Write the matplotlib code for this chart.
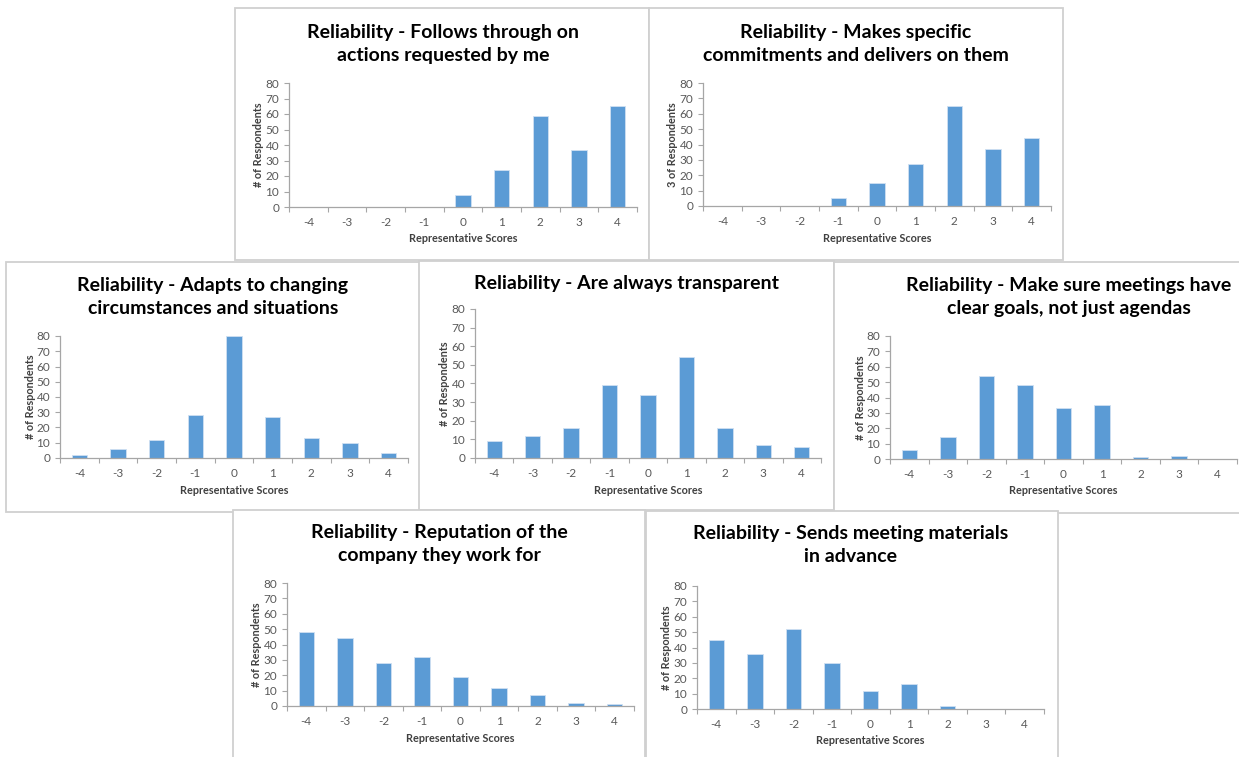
"""
Reliability survey histograms - 7 panels laid out like pasted Excel charts
"""
import matplotlib.pyplot as plt
from matplotlib.patches import Rectangle
import numpy as np

plt.rcParams['font.family'] = ['Lato', 'DejaVu Sans']

# data
scores = [-4, -3, -2, -1, 0, 1, 2, 3, 4]
score_labels = ['-4', '-3', '-2', '-1', '0', '1', '2', '3', '4']

follows_through = [0, 0, 0, 0, 8, 24, 59, 37, 65]
specific_commitments = [0, 0, 0, 5, 15, 27, 65, 37, 44]
adapts = [2, 6, 12, 28, 80, 27, 13, 10, 3]
transparent = [9, 12, 16, 39, 34, 54, 16, 7, 6]
clear_goals = [6, 14, 54, 48, 33, 35, 1, 2, 0]
reputation = [48, 44, 28, 32, 19, 12, 7, 2, 1]
sends_materials = [45, 36, 52, 30, 12, 16, 2, 0, 0]

titles = [
    'Reliability - Follows through on\nactions requested by me',
    'Reliability - Makes specific\ncommitments and delivers on them',
    'Reliability - Adapts to changing\ncircumstances and situations',
    'Reliability - Are always transparent',
    'Reliability - Make sure meetings have\nclear goals, not just agendas',
    'Reliability - Reputation of the\ncompany they work for',
    'Reliability - Sends meeting materials\nin advance',
]
ylabels = ['# of Respondents', '3 of Respondents', '# of Respondents', '# of Respondents',
           '# of Respondents', '# of Respondents', '# of Respondents']
xlabel = 'Representative Scores'
series = [follows_through, specific_commitments, adapts, transparent,
          clear_goals, reputation, sends_materials]

W, H = 1239, 757
BAR = '#5B9BD5'
AXIS = '#A6A6A6'
TICKTXT = '#595959'

# layout in pixels: panel box (x0, y0, x1, y1), plot area (left, top, right, bottom), title center x, title center y
panels = [
    ((235, 8, 649, 260), (289, 83, 637, 207), 443, 44),
    ((649, 8, 1063, 260), (703, 83, 1051, 206), 856, 44),
    ((6, 262, 420, 512), (60, 336, 408, 458), 213, 297),
    ((419, 261, 834, 510), (475, 309, 821, 458), 626, 283),
    ((834, 262, 1250, 513), (890, 336, 1237, 459), 1069, 297),
    ((233, 510, 645, 762), (287, 583, 634, 706), 439, 544),
    ((646, 511, 1058, 762), (697, 586, 1044, 709), 851, 545),
]

fig = plt.figure(figsize=(W / 100, H / 100), dpi=100)
fig.patch.set_facecolor('white')


def fx(x):
    return x / W


def fy(y):
    return 1 - y / H


for i, (box, area, tx, ty) in enumerate(panels):
    bx0, by0, bx1, by1 = box
    # panel background + border
    fig.patches.append(Rectangle((fx(bx0), fy(by1)), (bx1 - bx0) / W, (by1 - by0) / H,
                                 transform=fig.transFigure, facecolor='white',
                                 edgecolor='#D0D0D0', linewidth=1.3, zorder=i * 2))
    l, t, r, b = area
    ax = fig.add_axes([fx(l), fy(b), (r - l) / W, (b - t) / H], zorder=i * 2 + 1)
    ax.patch.set_alpha(0)
    ax.bar(scores, series[i], width=0.4, color=BAR, edgecolor='#CFE0F2', linewidth=0.6)
    ax.set_xlim(-4.5, 4.5)
    ax.set_ylim(0, 80)
    ax.set_yticks(np.arange(0, 81, 10))
    ax.set_xticks(scores)
    ax.set_xticklabels(score_labels)
    ax.set_xticks(np.arange(-4.5, 4.6, 1), minor=True)
    ax.tick_params(axis='x', which='major', length=0, pad=7, labelsize=8.5, labelcolor=TICKTXT)
    ax.tick_params(axis='x', which='minor', length=3.5, color=AXIS, width=0.8)
    ax.tick_params(axis='y', length=3.5, color=AXIS, width=0.8, pad=3.5,
                   labelsize=8.5, labelcolor=TICKTXT)
    for s in ['top', 'right']:
        ax.spines[s].set_visible(False)
    for s in ['left', 'bottom']:
        ax.spines[s].set_color(AXIS)
        ax.spines[s].set_linewidth(0.9)

    # axis titles
    fig.text(fx((l + r) / 2), fy(b + 32), xlabel, ha='center', va='center',
             fontsize=7.8, fontweight='bold', color='#404040', zorder=i * 2 + 1)
    fig.text(fx(l - 30), fy((t + b) / 2), ylabels[i], ha='center', va='center',
             rotation=90, fontsize=7.8, fontweight='bold', color='#404040', zorder=i * 2 + 1)
    # chart title
    fig.text(fx(tx), fy(ty), titles[i], ha='center', va='center', fontsize=14,
             fontweight='bold', color='black', linespacing=1.45, zorder=i * 2 + 1)

fig.savefig('out.png', dpi=100, facecolor='white')
